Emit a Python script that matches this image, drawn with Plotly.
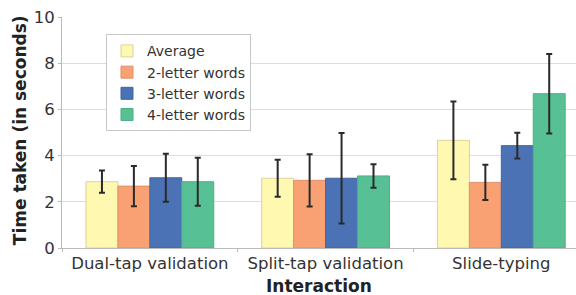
import plotly.graph_objects as go

categories = ["Dual-tap validation", "Split-tap validation", "Slide-typing"]
series_names = ["Average", "2-letter words", "3-letter words", "4-letter words"]
means = [
    [2.87, 3.02, 4.66],
    [2.68, 2.93, 2.84],
    [3.04, 3.02, 4.43],
    [2.87, 3.12, 6.68],
]
errors = [
    [0.48, 0.80, 1.68],
    [0.87, 1.13, 0.76],
    [1.04, 1.96, 0.56],
    [1.04, 0.51, 1.72],
]
colors = ["#FFF8B0", "#F9A172", "#4A72B5", "#57C095"]
edge_colors = ["#D9D49A", "#E0916A", "#4265A0", "#4EAE86"]
y_ticks = [0, 2, 4, 6, 8, 10]

fig = go.Figure()
for name, m, e, c, ec in zip(series_names, means, errors, colors, edge_colors):
    fig.add_trace(go.Bar(
        name=name, x=categories, y=m,
        marker=dict(color=c, line=dict(color=ec, width=1)),
        error_y=dict(type="data", array=e, color="#2a2a2a", thickness=2, width=3),
    ))

font_family = "DejaVu Sans"
fig.update_layout(
    width=576, height=295,
    margin=dict(l=62, r=0, t=17, b=47),
    barmode="group", bargap=0.273, bargroupgap=0,
    plot_bgcolor="white", paper_bgcolor="white",
    font=dict(family=font_family, size=16, color="#333333"),
    legend=dict(
        x=0.0856, y=0.925, xanchor="left", yanchor="top",
        bordercolor="#c8c8c8", borderwidth=1, bgcolor="white",
        font=dict(size=14, color="#333333"),
        tracegroupgap=0,
    ),
    xaxis=dict(
        range=[-0.5, 2.425], automargin=False,
        showline=True, linecolor="#bbbbbb", linewidth=1,
        ticks="outside", tickson="boundaries", ticklen=3, tickcolor="#bbbbbb",
        tickfont=dict(size=16.5, color="#333333"),
    ),
    yaxis=dict(
        range=[0, 10], tickvals=y_ticks, automargin=False,
        showline=True, linecolor="#bbbbbb", linewidth=1,
        ticks="outside", ticklen=3, tickcolor="#bbbbbb",
        showgrid=True, gridcolor="#dddddd", gridwidth=1,
        zeroline=False,
        tickfont=dict(size=16.5, color="#333333"),
    ),
    annotations=[
        dict(text="<b>Interaction</b>", xref="paper", yref="paper",
             x=0.5, y=-0.163, xanchor="center", yanchor="middle",
             showarrow=False, font=dict(size=17, color="#222222")),
        dict(text="<b>Time taken (in seconds)</b>", xref="paper", yref="paper",
             x=-0.0817, y=0.51, xanchor="center", yanchor="middle", textangle=-90,
             showarrow=False, font=dict(size=17, color="#222222")),
    ],
)

fig.write_html(
    "out.html",
    config={"displayModeBar": False},
    post_script="document.body.style.margin='0';document.body.style.padding='0';document.body.style.overflow='hidden';",
)
